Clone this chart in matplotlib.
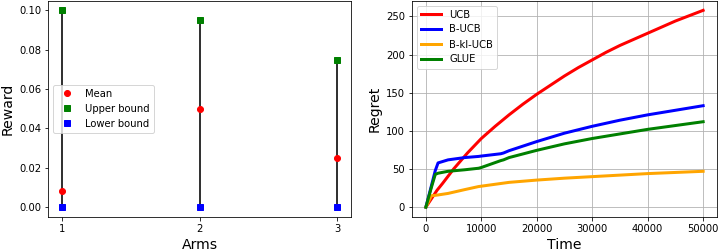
import matplotlib
matplotlib.use("Agg")
import matplotlib.pyplot as plt

arms = [1, 2, 3]
mean_reward = [0.008, 0.05, 0.025]
upper_bound = [0.1, 0.095, 0.075]
lower_bound = [0.0, 0.0, 0.0]

ucb_time = [0, 1000, 2000, 3000, 5000, 7500, 10000, 12500, 15000, 17500, 20000, 22500,
            25000, 27500, 30000, 32500, 35000, 37500, 40000, 42500, 45000, 47500, 50000]
ucb = [0, 11, 22, 31, 50, 71, 90, 106, 121, 135, 148, 160,
       172, 183, 193, 203, 212, 220, 228, 236, 244, 251, 258]

time = [0, 1000, 1700, 2200, 4000, 7000, 9500, 10000, 13500, 14000, 15000, 20000,
        25000, 30000, 35000, 40000, 45000, 50000]
b_ucb = [0, 28, 48, 58, 62, 65, 66.5, 67, 70, 71, 74, 86, 97, 106, 114, 121, 127, 133]
b_kl_ucb = [0, 15, 15.5, 16, 18, 23, 27, 27.5, 31, 31.5, 32.5, 35.5, 38, 40, 42, 44, 45.5, 47]
glue = [0, 26, 43, 44.5, 47, 49, 51, 52, 61, 62, 65, 74.5, 83, 90, 96, 102, 107, 112]

fig = plt.figure(figsize=(718 / 72, 252 / 72), dpi=72)
ax1 = fig.add_axes([48 / 718, 1 - 217 / 252, (351 - 48) / 718, 216.5 / 252])
ax2 = fig.add_axes([412 / 718, 1 - 217 / 252, (717 - 412) / 718, 216.5 / 252])

for a, lo, hi in zip(arms, lower_bound, upper_bound):
    ax1.plot([a, a], [lo, hi], color='#333333', lw=2, zorder=1)
ax1.plot(arms, mean_reward, 'o', color='red', ms=6, label='Mean', zorder=3)
ax1.plot(arms, upper_bound, 's', color='green', ms=6, label='Upper bound', zorder=3)
ax1.plot(arms, lower_bound, 's', color='blue', ms=6, label='Lower bound', zorder=3)
ax1.set_xticks(arms)
ax1.set_xlabel('Arms', fontsize=14)
ax1.set_ylabel('Reward', fontsize=14)
ax1.tick_params(labelsize=10)
ax1.legend(loc='center left', fontsize=10)

ax2.plot(ucb_time, ucb, color='red', lw=3, label='UCB')
ax2.plot(time, b_ucb, color='blue', lw=3, label='B-UCB')
ax2.plot(time, b_kl_ucb, color='orange', lw=3, label='B-kl-UCB')
ax2.plot(time, glue, color='green', lw=3, label='GLUE')
ax2.grid(True)
ax2.set_xlabel('Time', fontsize=14)
ax2.set_ylabel('Regret', fontsize=14)
ax2.tick_params(labelsize=10)
ax2.legend(loc='upper left', fontsize=10)

fig.savefig('out.png', dpi=72)
